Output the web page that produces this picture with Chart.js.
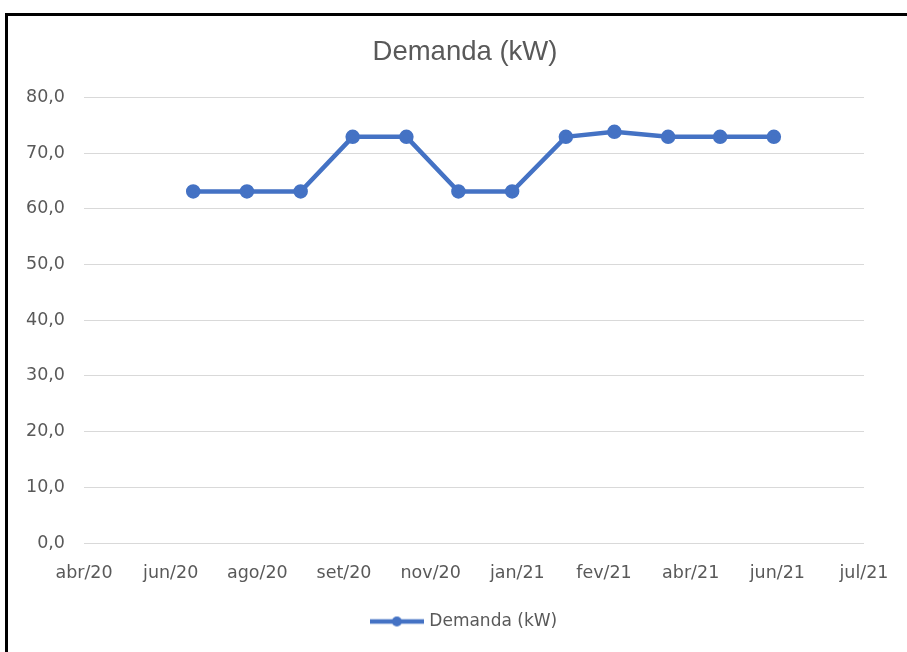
<!DOCTYPE html>
<html>
<head>
<meta charset="utf-8">
<script src="https://cdn.jsdelivr.net/npm/chart.js@4"></script>
<style>
  html, body { margin: 0; padding: 0; background: #fff; overflow: hidden; }
  .moldura {
    position: absolute; left: 5px; top: 13px; width: 1000px; height: 1000px;
    border-top: 3px solid #000; border-left: 3px solid #000;
  }
  .area { position: absolute; left: 0; top: 0; width: 907px; height: 652px; }
</style>
</head>
<body>
<div class="moldura"></div>
<div class="area"><canvas id="demanda"></canvas></div>
<script>
// início do eixo de datas e rótulos do eixo X (a cada 50 dias)
var inicioEixo = "2020-04-28";
var xTickLabels = ["abr/20", "jun/20", "ago/20", "set/20", "nov/20", "jan/21", "fev/21", "abr/21", "jun/21", "jul/21"];
var yTickLabels = ["0,0", "10,0", "20,0", "30,0", "40,0", "50,0", "60,0", "70,0", "80,0"];

var datas = ["2020-06-30", "2020-07-31", "2020-08-31", "2020-09-30", "2020-10-31", "2020-11-30",
             "2020-12-31", "2021-01-31", "2021-02-28", "2021-03-31", "2021-04-30", "2021-05-31"];
var demanda = [63.1, 63.1, 63.1, 72.9, 72.9, 63.1, 63.1, 72.9, 73.8, 72.9, 72.9, 72.9];

var azul = "#4472C4";
var cinza = "#595959";

function dias(d) {
    return (Date.parse(d) - Date.parse(inicioEixo)) / 86400000;
}

var pontos = datas.map(function (d, i) {
    return { x: dias(d), y: demanda[i] };
});

// marcador da legenda: linha com bolinha
var marcador = document.createElement("canvas");
marcador.width = 54;
marcador.height = 14;
var mc = marcador.getContext("2d");
mc.strokeStyle = azul;
mc.lineWidth = 4.5;
mc.beginPath();
mc.moveTo(0, 7);
mc.lineTo(54, 7);
mc.stroke();
mc.fillStyle = azul;
mc.beginPath();
mc.arc(27, 7, 5, 0, Math.PI * 2);
mc.fill();

new Chart("demanda", {
    type: "line",
    data: {
        datasets: [{
            label: "Demanda (kW)",
            data: pontos,
            borderColor: azul,
            backgroundColor: azul,
            borderWidth: 4.5,
            pointRadius: 5,
            pointHoverRadius: 5,
            pointBackgroundColor: azul,
            pointBorderColor: azul,
            tension: 0,
            fill: false
        }]
    },
    options: {
        responsive: true,
        maintainAspectRatio: false,
        animation: false,
        layout: {
            padding: { left: 23, right: 0, top: 0, bottom: 12 }
        },
        scales: {
            x: {
                type: "linear",
                min: 0,
                max: 450,
                border: { display: false },
                grid: { display: false, drawTicks: false },
                ticks: {
                    stepSize: 50,
                    autoSkip: false,
                    maxRotation: 0,
                    padding: 20,
                    color: cinza,
                    font: { family: "DejaVu Sans", size: 17.5 },
                    callback: function (v, i) { return xTickLabels[i]; }
                },
                afterFit: function (s) {
                    s.paddingRight = 43;
                    s.height = s.height - 3;
                }
            },
            y: {
                min: 0,
                max: 80,
                border: { display: false },
                grid: { color: "#d9d9d9", lineWidth: 1, drawTicks: false },
                ticks: {
                    stepSize: 10,
                    padding: 19,
                    color: cinza,
                    font: { family: "DejaVu Sans", size: 17.5 },
                    callback: function (v, i) { return yTickLabels[i]; }
                },
                afterFit: function (s) {
                    s.width = 61;
                }
            }
        },
        plugins: {
            title: {
                display: true,
                text: "Demanda (kW)",
                color: cinza,
                font: { family: "Liberation Sans", size: 27.5, weight: "normal" },
                padding: { top: 36, bottom: 28.3 }
            },
            legend: {
                display: true,
                position: "bottom",
                labels: {
                    usePointStyle: true,
                    pointStyle: marcador,
                    pointStyleWidth: 48,
                    color: cinza,
                    font: { family: "DejaVu Sans", size: 17 },
                    padding: 12
                }
            },
            tooltip: { enabled: false }
        }
    }
});
</script>
</body>
</html>
